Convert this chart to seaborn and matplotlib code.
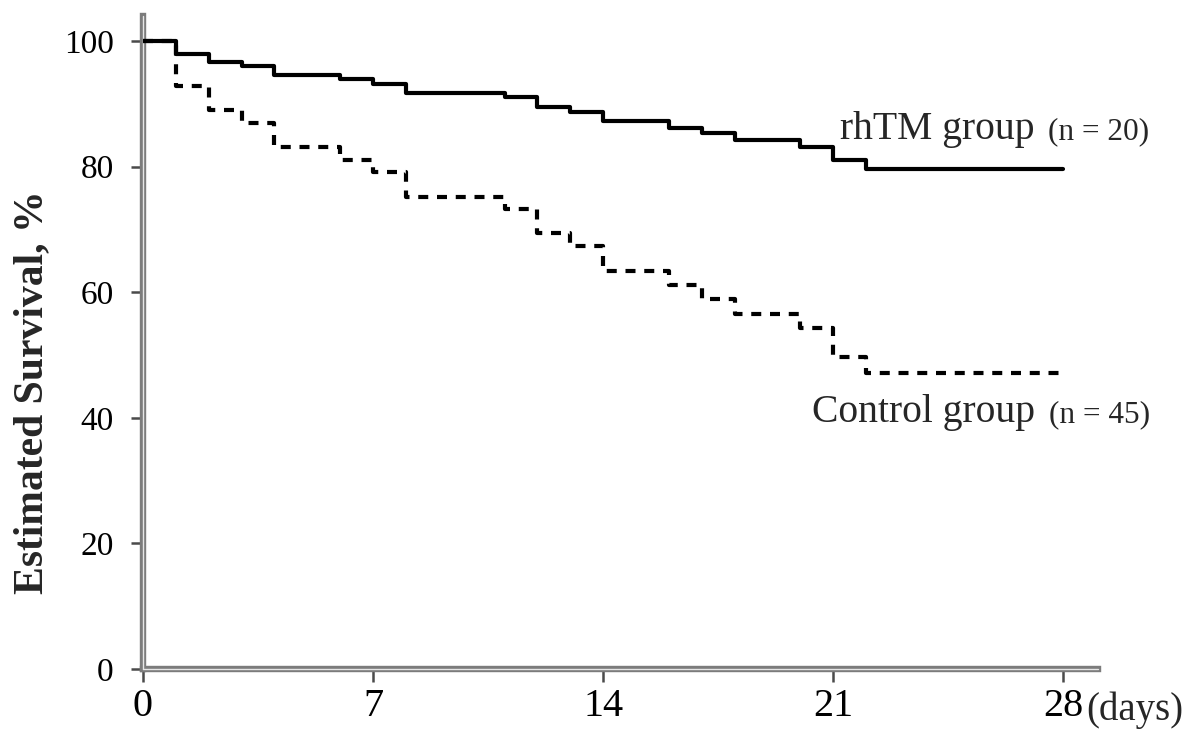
import matplotlib
matplotlib.use("Agg")
import matplotlib.pyplot as plt
import seaborn as sns
import pandas as pd

# ---- data ----
days = [0, 1, 2, 3, 4, 6, 7, 8, 11, 12, 13, 14, 16, 17, 18, 20, 21, 22, 28]
rhtm_surv = [100, 97.9, 96.6, 96.0, 94.6, 93.9, 93.2, 91.8, 91.1, 89.5, 88.7,
             87.2, 86.1, 85.4, 84.2, 83.2, 81.1, 79.7, 79.7]
control_surv = [100, 92.8, 89.0, 87.0, 83.1, 81.1, 79.1, 75.2, 73.2, 69.4, 67.4,
                63.4, 61.1, 58.9, 56.6, 54.3, 49.7, 47.2, 47.2]
groups = ["rhTM", "Control"]
x_ticks = [0, 7, 14, 21, 28]
y_ticks = [0, 20, 40, 60, 80, 100]

df = pd.concat([
    pd.DataFrame({"day": days, "survival": rhtm_surv, "group": groups[0]}),
    pd.DataFrame({"day": days, "survival": control_surv, "group": groups[1]}),
])

sns.set_theme(style="white")
plt.rcParams["font.family"] = ["Liberation Serif", "DejaVu Serif"]

fig = plt.figure(figsize=(12, 7.46), dpi=100)
ax = fig.add_axes([143 / 1200, 1 - 669 / 746, (1098 - 143) / 1200, (669 - 16) / 746])

sns.lineplot(data=df, x="day", y="survival", hue="group", style="group",
             palette={"rhTM": "black", "Control": "black"},
             dashes={"rhTM": "", "Control": (2.4, 2.1)},
             estimator=None, sort=True, drawstyle="steps-post",
             linewidth=3.0, legend=False, ax=ax, zorder=3)

ax.set_xlim(0, 29.05)
ax.set_ylim(0, 104)
ax.set_xticks(x_ticks)
ax.set_yticks(y_ticks)
ax.set_xticklabels([str(t) for t in x_ticks], fontsize=29)
ax.set_yticklabels([str(t) for t in y_ticks], fontsize=24)
ax.set_xlabel("")
ax.set_ylabel("")

for side in ["top", "right"]:
    ax.spines[side].set_visible(False)
for side in ["left", "bottom"]:
    ax.spines[side].set_color("#7c7c7c")
    ax.spines[side].set_linewidth(4.6)
    ax.spines[side].set_zorder(2.5)
# light centre line to mimic the double-line axes
ax.axvline(0, color="#e6e6e6", lw=1.0, zorder=2.6, clip_on=False)
ax.axhline(0, color="#e6e6e6", lw=1.0, zorder=2.6, clip_on=False)

ax.tick_params(axis="y", direction="out", length=9, width=1.8, color="#4a4a4a",
               pad=12, labelcolor="black", left=True)
ax.tick_params(axis="x", direction="out", length=9, width=1.8, color="#4a4a4a",
               pad=5, labelcolor="black", bottom=True)

# y label
fig.text(32 / 1200, 1 - 392 / 746, "Estimated Survival, %", rotation=90,
         ha="center", va="center", fontsize=30, fontweight="bold")
# (days)
fig.text(1086 / 1200, 1 - 720 / 746, "(days)", ha="left", va="baseline", fontsize=28)

# group annotations
fig.canvas.draw()
renderer = fig.canvas.get_renderer()

def two_part(x, y, big, small, big_size, small_size):
    t1 = ax.text(x, y, big, ha="left", va="baseline", fontsize=big_size)
    bb = t1.get_window_extent(renderer=renderer)
    x_end = ax.transData.inverted().transform((bb.x1 + 14, 0))[0]
    ax.text(x_end, y, small, ha="left", va="baseline", fontsize=small_size)

two_part(21.2, 84.4, "rhTM group", "(n = 20)", 28.5, 22.5)
two_part(20.35, 39.3, "Control group", "(n = 45)", 28.5, 22.5)

fig.savefig("out.png", dpi=100)
